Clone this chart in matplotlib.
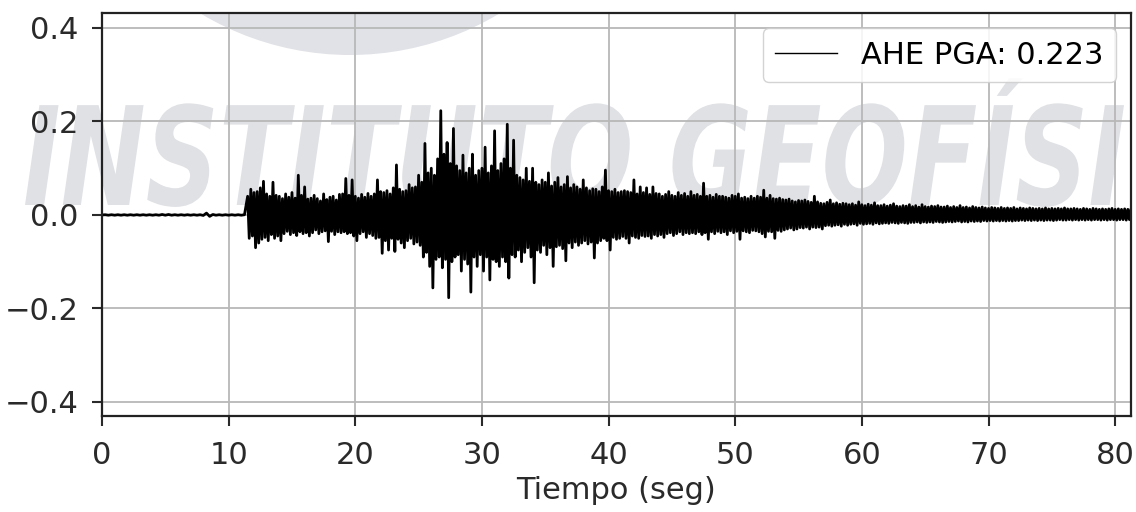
import numpy as np
import matplotlib
matplotlib.use('Agg')
import matplotlib.pyplot as plt
from matplotlib.textpath import TextPath
from matplotlib.patches import PathPatch, Circle
from matplotlib.font_manager import FontProperties
from matplotlib.transforms import Affine2D, IdentityTransform, Bbox

station = 'AHE'
dt_pre = 0.25      # spacing of the quiet samples (s)
dt = 0.125         # spacing of the digitised peaks (s)
t_onset = 11.5     # P arrival (s)

# quiet part before the arrival
pre_event = [0.0, 0.0005, -0.0005, 0.0005, -0.0005, 0.0005, -0.0005, 0.0005, -0.0005, 0.0005,
             -0.0005, 0.0005, -0.0005, 0.0005, -0.0005, 0.0005, -0.0005, 0.0005, -0.0005, 0.001,
             -0.0005, 0.001, -0.0005, 0.0005, -0.0005, 0.0005, -0.0005, 0.0005, -0.0005, 0.0005,
             -0.0005, 0.0005, -0.001, 0.004, -0.003, 0.001, -0.0005, 0.0005, -0.0005, 0.0005,
             -0.0005, 0.0005, -0.0005, 0.0005, -0.0005, 0.0005]

# alternating peaks, 2.5 s per row, from t_onset
acc = [
    0.040, -0.050, 0.055, -0.045, 0.048, -0.070, 0.050, -0.060, 0.058, -0.052,
    0.072, -0.048, 0.045, -0.055, 0.040, -0.042, 0.070, -0.050, 0.042, -0.045,
    0.040, -0.055, 0.035, -0.040, 0.045, -0.035, 0.038, -0.042, 0.048, -0.038,
    0.036, -0.044, 0.085, -0.036, 0.042, -0.040, 0.060, -0.038, 0.034, -0.045,
    0.036, -0.038, 0.042, -0.032, 0.035, -0.040, 0.030, -0.036, 0.045, -0.034,
    0.033, -0.057, 0.038, -0.035, 0.040, -0.042, 0.032, -0.036, 0.044, -0.038,
    0.045, -0.036, 0.078, -0.040, 0.042, -0.038, 0.075, -0.045, 0.040, -0.055,
    0.036, -0.040, 0.044, -0.036, 0.038, -0.048, 0.046, -0.040, 0.040, -0.044,
    0.045, -0.050, 0.075, -0.048, 0.050, -0.082, 0.048, -0.055, 0.052, -0.075,
    0.045, -0.050, 0.058, -0.078, 0.107, -0.052, 0.055, -0.060, 0.050, -0.070,
    0.052, -0.055, 0.065, -0.050, 0.058, -0.062, 0.060, -0.058, 0.085, -0.065,
    0.070, -0.090, 0.153, -0.080, 0.090, -0.110, 0.100, -0.156, 0.085, -0.095,
    0.120, -0.090, 0.223, -0.113, 0.130, -0.095, 0.155, -0.177, 0.110, -0.100,
    0.185, -0.090, 0.105, -0.085, 0.095, -0.120, 0.128, -0.095, 0.090, -0.105,
    0.100, -0.165, 0.130, -0.090, 0.085, -0.110, 0.095, -0.085, 0.100, -0.120,
    0.145, -0.090, 0.090, -0.139, 0.105, -0.095, 0.180, -0.100, 0.095, -0.110,
    0.110, -0.090, 0.120, -0.100, 0.194, -0.135, 0.100, -0.085, 0.160, -0.090,
    0.085, -0.075, 0.080, -0.100, 0.075, -0.080, 0.100, -0.070, 0.072, -0.090,
    0.100, -0.145, 0.070, -0.075, 0.065, -0.080, 0.075, -0.065, 0.070, -0.085,
    0.090, -0.070, 0.062, -0.110, 0.070, -0.068, 0.080, -0.065, 0.060, -0.072,
    0.065, -0.098, 0.082, -0.060, 0.058, -0.070, 0.065, -0.058, 0.060, -0.065,
    0.055, -0.060, 0.075, -0.055, 0.058, -0.062, 0.052, -0.058, 0.056, -0.092,
    0.055, -0.060, 0.050, -0.055, 0.060, -0.050, 0.096, -0.055, 0.052, -0.075,
    0.050, -0.048, 0.055, -0.052, 0.048, -0.050, 0.050, -0.046, 0.052, -0.050,
    0.050, -0.060, 0.048, -0.045, 0.075, -0.048, 0.045, -0.050, 0.060, -0.044,
    0.048, -0.046, 0.058, -0.045, 0.044, -0.050, 0.060, -0.042, 0.046, -0.045,
    0.045, -0.042, 0.040, -0.048, 0.044, -0.040, 0.050, -0.038, 0.042, -0.044,
    0.040, -0.040, 0.048, -0.036, 0.042, -0.042, 0.046, -0.038, 0.040, -0.040,
    0.050, -0.038, 0.042, -0.040, 0.044, -0.036, 0.040, -0.042, 0.068, -0.038,
    0.040, -0.052, 0.042, -0.036, 0.038, -0.040, 0.044, -0.035, 0.040, -0.038,
    0.040, -0.036, 0.038, -0.042, 0.036, -0.034, 0.042, -0.038, 0.040, -0.035,
    0.045, -0.052, 0.036, -0.034, 0.038, -0.036, 0.035, -0.038, 0.040, -0.033,
    0.036, -0.034, 0.040, -0.036, 0.038, -0.040, 0.053, -0.047, 0.036, -0.035,
    0.042, -0.036, 0.035, -0.050, 0.034, -0.033, 0.036, -0.035, 0.033, -0.032,
    0.032, -0.030, 0.034, -0.028, 0.030, -0.032, 0.028, -0.030, 0.031, -0.027,
    0.030, -0.028, 0.032, -0.026, 0.029, -0.030, 0.027, -0.026, 0.040, -0.027,
    0.028, -0.026, 0.025, -0.030, 0.024, -0.023, 0.027, -0.022, 0.032, -0.024,
    0.024, -0.022, 0.026, -0.021, 0.023, -0.024, 0.025, -0.020, 0.024, -0.022,
    0.022, -0.020, 0.024, -0.019, 0.021, -0.022, 0.028, -0.018, 0.022, -0.020,
    0.020, -0.019, 0.023, -0.018, 0.021, -0.020, 0.026, -0.017, 0.020, -0.019,
    0.020, -0.018, 0.022, -0.017, 0.019, -0.018, 0.021, -0.016, 0.024, -0.017,
    0.019, -0.018, 0.018, -0.016, 0.020, -0.017, 0.019, -0.018, 0.022, -0.016,
    0.018, -0.016, 0.020, -0.015, 0.017, -0.017, 0.022, -0.015, 0.018, -0.016,
    0.017, -0.015, 0.019, -0.016, 0.018, -0.014, 0.020, -0.015, 0.017, -0.016,
    0.017, -0.015, 0.019, -0.014, 0.016, -0.015, 0.018, -0.014, 0.016, -0.013,
    0.020, -0.015, 0.016, -0.014, 0.017, -0.015, 0.015, -0.013, 0.018, -0.014,
    0.016, -0.013, 0.015, -0.014, 0.017, -0.012, 0.015, -0.013, 0.014, -0.012,
    0.016, -0.013, 0.015, -0.012, 0.014, -0.013, 0.016, -0.012, 0.014, -0.013,
    0.015, -0.012, 0.014, -0.013, 0.016, -0.012, 0.013, -0.012, 0.015, -0.011,
    0.014, -0.012, 0.013, -0.011, 0.015, -0.012, 0.014, -0.011, 0.013, -0.012,
    0.014, -0.011, 0.013, -0.012, 0.015, -0.011, 0.013, -0.011, 0.014, -0.012,
    0.013, -0.011, 0.014, -0.010, 0.013, -0.011, 0.015, -0.011, 0.013, -0.010,
    0.013, -0.011, 0.014, -0.010, 0.013, -0.011, 0.012, -0.010, 0.014, -0.011,
    0.013, -0.010, 0.012, -0.011, 0.014, -0.010, 0.013, -0.010, 0.012, -0.011,
    0.013, -0.010, 0.012, -0.011, 0.013, -0.010, 0.014, -0.010, 0.012, -0.011,
    0.013, -0.010, 0.012, -0.010, 0.013, -0.011, 0.012, -0.010, 0.013, -0.010,
]

xticks = [0, 10, 20, 30, 40, 50, 60, 70, 80]
yticks = [-0.4, -0.2, 0.0, 0.2, 0.4]


def add_watermark(fig):
    # big condensed "INSTITUTO GEOFISICO" behind the plot, in pixel coordinates
    fp = FontProperties(family='DejaVu Sans', weight='bold', style='italic')
    full = TextPath((0, 0), 'INSTITUTO GEOFÍSICO', size=1, prop=fp)
    part = TextPath((0, 0), 'INSTITUTO GEOFÍSI', size=1, prop=fp)
    ext = part.get_extents()
    sx = (1124 - 25) / ext.width
    sy = 100 / 0.73
    tr = Affine2D().translate(-ext.x0, 0).scale(sx, sy).translate(25, 512 - 205)
    wm = PathPatch(full, transform=tr, facecolor='#e0e1e5', edgecolor='none', zorder=-5)
    # the picture cuts the logo just before the right spine
    wm.set_clip_box(Bbox([[0, 0], [1127, 512]]))
    fig.add_artist(wm)


if __name__ == "__main__":

    t_pre = dt_pre*np.arange(len(pre_event))
    t_main = t_onset + dt*np.arange(len(acc))
    time = np.concatenate([t_pre, t_main])
    x = np.array(pre_event + acc)

    pga = np.max(np.abs(x))

    fig = plt.figure(figsize=(11.36, 5.12), dpi=100)
    ax = fig.add_axes([102/1136, 1 - 416/512, (1131 - 102)/1136, (416 - 13)/512])
    ax.set_facecolor('none')
    add_watermark(fig)

    ax.plot(time, x, color='black', lw=2.0, label=f'{station} PGA: {pga:.3f}')

    ax.set_xlim(0, 81.25)
    ax.set_ylim(-0.43, 0.432)
    ax.set_xticks(xticks)
    ax.set_yticks(yticks)
    ax.grid(True, color='#b8b8b8', lw=1.3)
    ax.tick_params(labelsize=22, length=7, width=1.5, colors='#2a2a2a')
    ax.tick_params(axis='x', pad=11)
    ax.tick_params(axis='y', pad=10)
    for s in ax.spines.values():
        s.set_linewidth(1.6)
        s.set_color('#222222')
    ax.set_xlabel('Tiempo (seg)', fontsize=22, color='#2a2a2a', labelpad=4)

    # grey logo disc cut by the top of the axes
    ax.add_artist(Circle((350, 512 + 235), 290, transform=IdentityTransform(),
                         facecolor='#e1e2e7', edgecolor='none', zorder=0.5))

    leg = ax.legend(loc='upper right', fontsize=22, framealpha=0.85)
    leg.get_frame().set_edgecolor('#cccccc')
    for h in leg.get_lines():
        h.set_linewidth(1.0)

    fig.savefig('out.png', dpi=100)
